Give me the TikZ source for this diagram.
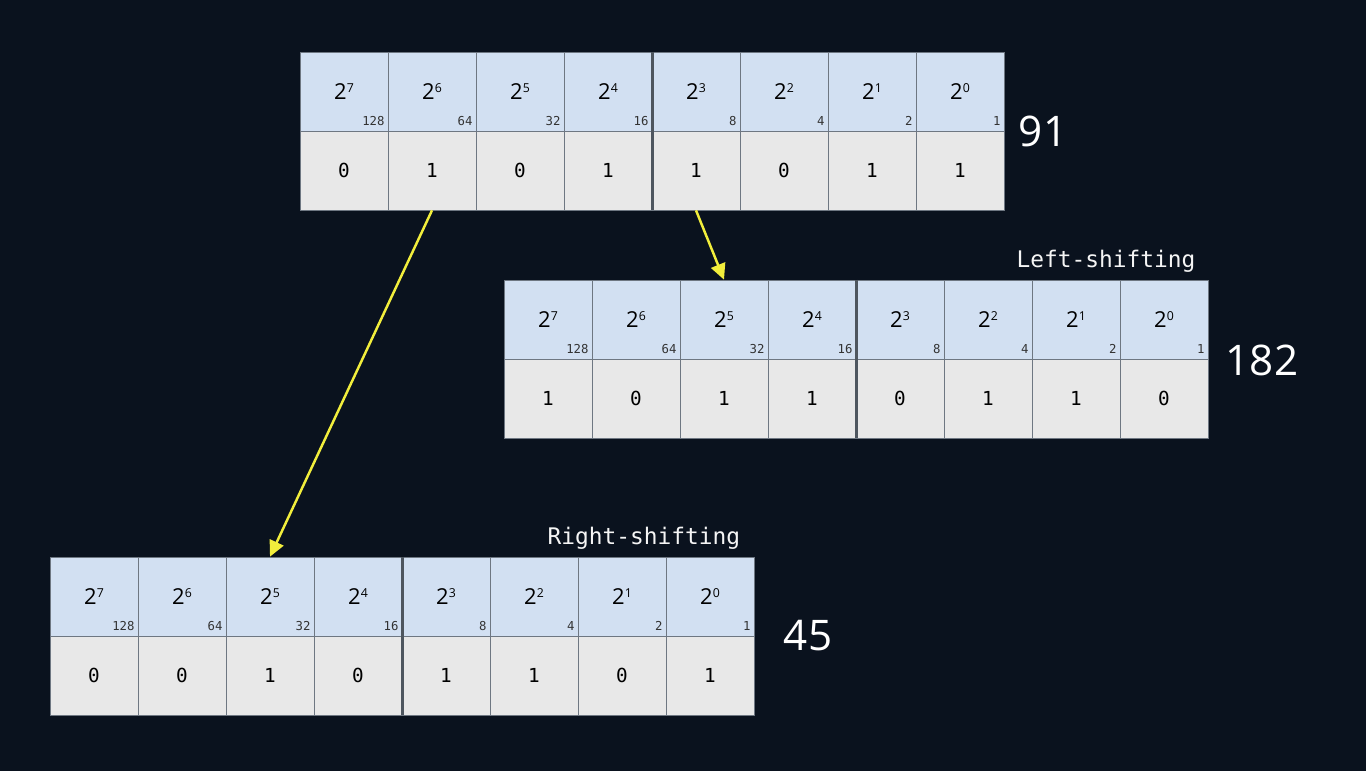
\documentclass[tikz,border=0pt]{standalone}
\usepackage{fontspec}
\setmainfont{Open Sans}
\setmonofont{DejaVu Sans Mono}
\usepackage{tikz}
\usetikzlibrary{positioning,arrows.meta}

\definecolor{bgnavy}{HTML}{0A121E}
\definecolor{headblue}{HTML}{D2E0F2}
\definecolor{bitgray}{HTML}{E8E8E8}
\definecolor{gridgray}{HTML}{6E7782}
\definecolor{splitgray}{HTML}{4E565F}
\definecolor{arrowyellow}{HTML}{F2EE3C}

\newcommand{\pw}[1]{2\raisebox{0.65ex}{\fontsize{7}{7}\selectfont #1}}

\tikzset{
  header/.style={draw=gridgray, fill=headblue, minimum width=1.76cm, minimum height=1.58cm,
    inner sep=0pt, font=\fontsize{12.5}{14}\selectfont},
  bitcell/.style={draw=gridgray, fill=bitgray, minimum width=1.76cm, minimum height=1.58cm,
    inner sep=0pt, font=\ttfamily\fontsize{11}{13}\selectfont},
  weight/.style={anchor=south east, inner xsep=2pt, inner ysep=3pt, text=black!80,
    font=\ttfamily\fontsize{7}{8}\selectfont},
  divider/.style={draw=splitgray, line width=1.7pt},
  valuelabel/.style={text=white, font=\fontsize{24}{27}\selectfont},
  shiftlabel/.style={text=white!92!gray, font=\ttfamily\fontsize{13}{15}\selectfont},
  shiftarrow/.style={draw=arrowyellow, line width=1.4pt, -{Triangle[length=9pt,width=8.5pt]}, arrowyellow}
}

\begin{document}
\begin{tikzpicture}[x=0.02cm, y=-0.02cm]
    \fill[bgnavy] (0,0) rectangle (1366,771);
    \useasboundingbox (0,0) rectangle (1366,771);

    % original: 91
    \foreach \e/\w/\b [count=\i from 0] in {7/128/0,6/64/1,5/32/0,4/16/1,3/8/1,2/4/0,1/2/1,0/1/1}{
        \node[header] (orig-h\i) at (344+88*\i,91.5) {\pw{\e}};
        \node[weight] (orig-w\i) at (orig-h\i.south east) {\w};
        \node[bitcell] (orig-b\i) at (344+88*\i,170.5) {\b};
    }
    \draw[divider] (orig-h3.north east) -- (orig-b3.south east);
    \node[valuelabel] (orig-val) at (1043,131) {91};

    % left-shifted: 182
    \foreach \e/\w/\b [count=\i from 0] in {7/128/1,6/64/0,5/32/1,4/16/1,3/8/0,2/4/1,1/2/1,0/1/0}{
        \node[header] (lsh-h\i) at (548+88*\i,319.5) {\pw{\e}};
        \node[weight] (lsh-w\i) at (lsh-h\i.south east) {\w};
        \node[bitcell] (lsh-b\i) at (548+88*\i,398.5) {\b};
    }
    \draw[divider] (lsh-h3.north east) -- (lsh-b3.south east);
    \node[valuelabel] (lsh-val) at (1262,360) {182};
    \node[shiftlabel] (lsh-label) at (1106,261) {Left-shifting};

    % right-shifted: 45
    \foreach \e/\w/\b [count=\i from 0] in {7/128/0,6/64/0,5/32/1,4/16/0,3/8/1,2/4/1,1/2/0,0/1/1}{
        \node[header] (rsh-h\i) at (94+88*\i,596.5) {\pw{\e}};
        \node[weight] (rsh-w\i) at (rsh-h\i.south east) {\w};
        \node[bitcell] (rsh-b\i) at (94+88*\i,675.5) {\b};
    }
    \draw[divider] (rsh-h3.north east) -- (rsh-b3.south east);
    \node[valuelabel] (rsh-val) at (808,636) {45};
    \node[shiftlabel] (rsh-label) at (644,538) {Right-shifting};

    % arrows
    \draw[shiftarrow] (orig-b4.south) -- (lsh-h2.north);
    \draw[shiftarrow] (orig-b1.south) -- (rsh-h2.north);
\end{tikzpicture}
\end{document}
